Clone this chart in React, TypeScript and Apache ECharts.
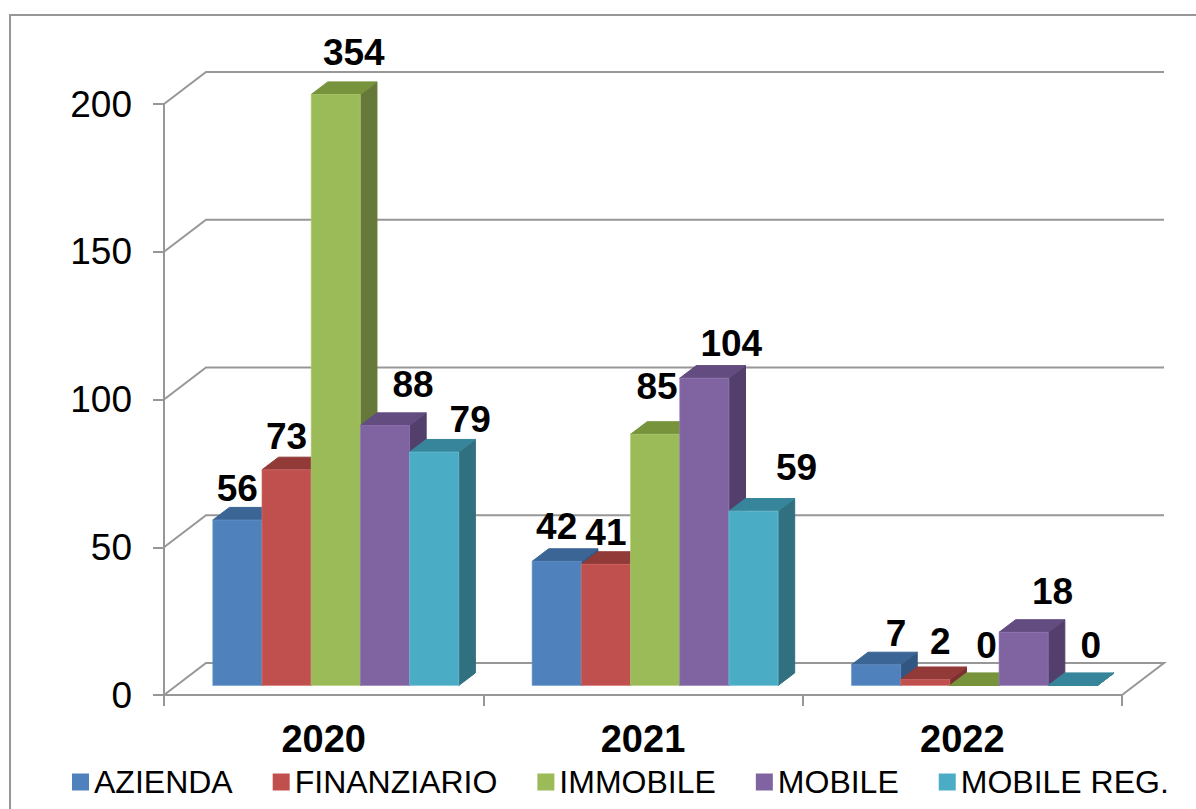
import React, { useEffect, useRef } from "react";
import * as echarts from "echarts";

const categories = ["2020", "2021", "2022"];
const seriesNames = ["AZIENDA", "FINANZIARIO", "IMMOBILE", "MOBILE", "MOBILE REG."];
const azienda = [56, 42, 7];
const finanziario = [73, 41, 2];
const immobile = [354, 85, 0];
const mobile = [88, 104, 18];
const mobileReg = [79, 59, 0];
const yTicks = [0, 50, 100, 150, 200];
const seriesValues = [azienda, finanziario, immobile, mobile, mobileReg];

const frontColors = ["#4F81BD", "#C0504D", "#9BBB59", "#8064A2", "#4BACC6"];
const topColors = ["#3B6595", "#923A38", "#77933C", "#634C80", "#37859A"];
const sideColors = ["#325681", "#7C312F", "#66793A", "#533F6C", "#31707F"];
const edgeColors = ["#6E9AD0", "#D87370", "#B3CF78", "#9A80BC", "#75C6DC"];

// label nudges from the bar's front-top centre, [dx, dy] by series then category
const labelNudges = [
  [[0, -32], [0, -35], [20, -31]],
  [[0, -33], [0, -32], [15, -38]],
  [[18, -42], [2, -48], [12, -40]],
  [[28, -41], [27, -35], [29, -41]],
  [[36, -33], [43, -44], [18, -40]],
];

const AXIS_COLOR = "#979797";
const FONT = '"Liberation Sans", Arial, sans-serif';
const BAR_W = 49.2;
const SHIFT_X = 12.1; // bars stand inside the floor
const SHIFT_Y = -9.5;
const DEPTH_X = 16.6;
const DEPTH_Y = -12.6;
const WALL_X = 42;
const WALL_Y = -32;

const poly = (points: number[][], fill: string, stroke?: string) => ({
  type: "polygon",
  shape: { points },
  style: { fill, stroke: stroke ?? fill, lineWidth: 1 },
});

function barRenderer(s: number) {
  return (params: any, api: any) => {
    const cat = api.value(0);
    const value = api.value(1);
    const maxVal = yTicks[yTicks.length - 1];
    const [cx, yBase] = api.coord([cat, 0]);
    const yTopRaw = api.coord([cat, Math.min(value, maxVal)])[1];
    const x0 = cx + SHIFT_X + (s - 2.5) * BAR_W;
    const x1 = x0 + BAR_W;
    const b = yBase + SHIFT_Y;
    const t = yTopRaw + SHIFT_Y;
    const children: any[] = [
      poly(
        [[x1, b], [x1 + DEPTH_X, b + DEPTH_Y], [x1 + DEPTH_X, t + DEPTH_Y], [x1, t]],
        sideColors[s],
      ),
      poly(
        [[x0, t], [x1, t], [x1 + DEPTH_X, t + DEPTH_Y], [x0 + DEPTH_X, t + DEPTH_Y]],
        topColors[s],
      ),
    ];
    if (b - t > 0.5) {
      children.push({
        type: "rect",
        shape: { x: x0, y: t, width: BAR_W, height: b - t },
        style: { fill: frontColors[s], stroke: edgeColors[s], lineWidth: 0.6 },
      });
    }
    const [dx, dy] = labelNudges[s][cat];
    children.push({
      type: "text",
      z2: 50,
      style: {
        x: x0 + BAR_W / 2 + dx,
        y: t + dy,
        text: String(value),
        fontFamily: FONT,
        fontSize: 37,
        fontWeight: "bold",
        fill: "#000",
        align: "center",
        verticalAlign: "middle",
      },
    });
    return { type: "group", children };
  };
}

function wallRenderer(params: any, api: any) {
  const tick = api.value(0);
  const y = api.coord([0, tick])[1];
  const left = params.coordSys.x;
  const right = left + params.coordSys.width;
  const style = { stroke: AXIS_COLOR, lineWidth: 2, fill: "none" };
  const points =
    tick === 0
      ? [[left, y], [left + WALL_X, y + WALL_Y], [right + WALL_X, y + WALL_Y], [right, y]]
      : [[left, y], [left + WALL_X, y + WALL_Y], [right + WALL_X, y + WALL_Y]];
  return { type: "polyline", shape: { points }, style };
}

export default function App() {
  const ref = useRef<HTMLDivElement>(null);
  useEffect(() => {
    const chart = echarts.init(ref.current!, null, { renderer: "svg" });
    chart.setOption({
      animation: false,
      backgroundColor: "#fff",
      textStyle: { fontFamily: FONT },
      graphic: [
        {
          type: "rect",
          shape: { x: 10, y: 15, width: 1400, height: 1000 },
          style: { fill: "none", stroke: AXIS_COLOR, lineWidth: 2 },
          silent: true,
        },
      ],
      grid: { left: 164, right: 74, top: 104, bottom: 114, containLabel: false },
      legend: {
        data: seriesNames,
        left: 72,
        top: 766,
        icon: "rect",
        itemWidth: 17,
        itemHeight: 17,
        itemGap: 40,
        padding: 0,
        textStyle: { fontFamily: FONT, fontSize: 32, color: "#000" },
      },
      xAxis: {
        type: "category",
        data: categories,
        axisLine: { show: true, lineStyle: { color: AXIS_COLOR, width: 2 } },
        axisTick: { show: true, length: 11, lineStyle: { color: AXIS_COLOR, width: 2 } },
        axisLabel: {
          fontFamily: FONT,
          fontSize: 38,
          fontWeight: "bold",
          color: "#000",
          margin: 25,
        },
      },
      yAxis: {
        type: "value",
        min: 0,
        max: 200,
        interval: 50,
        splitLine: { show: false },
        axisLine: { show: true, lineStyle: { color: AXIS_COLOR, width: 2 } },
        axisTick: { show: true, length: 11, lineStyle: { color: AXIS_COLOR, width: 2 } },
        axisLabel: { fontFamily: FONT, fontSize: 37, color: "#000", margin: 32 },
      },
      series: [
        {
          type: "custom",
          name: "walls",
          renderItem: wallRenderer,
          data: yTicks.map((t) => [t]),
          encode: { y: 0 },
          silent: true,
          z: 1,
        },
        ...seriesNames.map((name, s) => ({
          type: "custom",
          name,
          renderItem: barRenderer(s),
          data: seriesValues[s].map((v, i) => [i, v]),
          encode: { x: 0, y: 1 },
          itemStyle: { color: frontColors[s] },
          z: 2 + s,
        })),
      ],
    });
    return () => chart.dispose();
  }, []);
  return (
    <div
      ref={ref}
      style={{ position: "fixed", left: 0, top: 0, width: 1196, height: 809 }}
    />
  );
}
